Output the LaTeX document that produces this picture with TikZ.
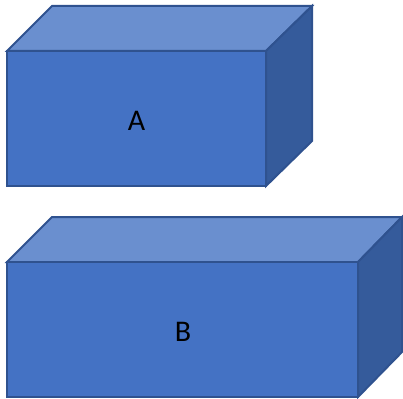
\documentclass[tikz,border=0pt]{standalone}
\usepackage{fontspec}
\setmainfont{Carlito}
\definecolor{frontc}{HTML}{4472C4}
\definecolor{topc}{HTML}{6A8FCF}
\definecolor{sidec}{HTML}{355B9B}
\definecolor{edgec}{HTML}{2F528F}
\begin{document}
\begin{tikzpicture}[x=1pt,y=-1pt,
  face/.style={draw=edgec,line width=2pt,line join=miter},
  lbl/.style={font=\fontsize{30}{32}\selectfont,text=black,inner sep=0pt}]
\useasboundingbox (0,0) rectangle (403,398);
% Box A
\filldraw[face,fill=topc] (7,51) -- (52,6) -- (312,6) -- (266,51) -- cycle;
\filldraw[face,fill=sidec] (266,51) -- (312,6) -- (312,141) -- (266,186) -- cycle;
\filldraw[face,fill=frontc] (7,51) rectangle (266,186);
\node[lbl] (a) at (136.5,121) {A};
% Box B
\filldraw[face,fill=topc] (7,262) -- (52,217) -- (402,217) -- (358,262) -- cycle;
\filldraw[face,fill=sidec] (358,262) -- (402,217) -- (402,352) -- (358,397) -- cycle;
\filldraw[face,fill=frontc] (7,262) rectangle (358,397);
\node[lbl] (b) at (183,332) {B};
\end{tikzpicture}
\end{document}
